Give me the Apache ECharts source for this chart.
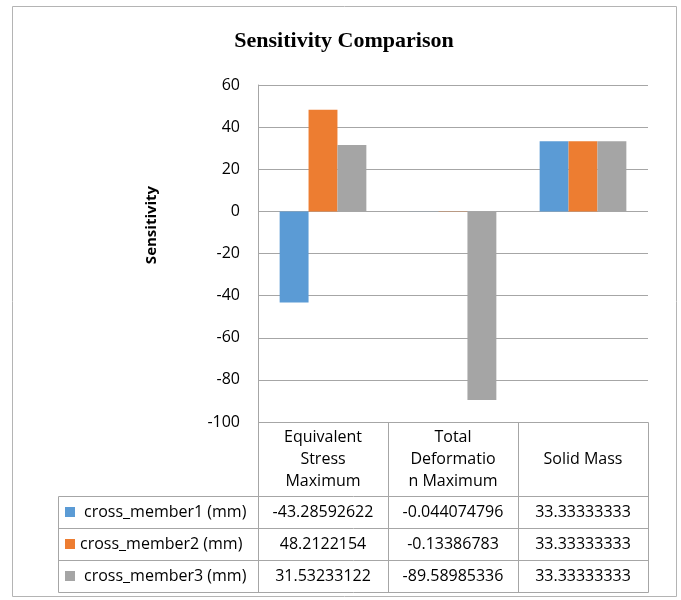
<!DOCTYPE html>
<html>
<head>
<meta charset="utf-8">
<script src="https://cdn.jsdelivr.net/npm/echarts@6/dist/echarts.min.js"></script>
<style>
html,body{margin:0;padding:0;background:#fff;}
#chart{width:681px;height:600px;}
</style>
</head>
<body>
<div id="chart"></div>
<script>
// ---- data ----
const categories = ['Equivalent Stress Maximum', 'Total Deformation Maximum', 'Solid Mass'];
const categoryHeaderLines = [['Equivalent', 'Stress', 'Maximum'], ['Total', 'Deformatio', 'n Maximum'], ['Solid Mass']];
const seriesNames = ['cross_member1 (mm)', 'cross_member2 (mm)', 'cross_member3 (mm)'];
const member1 = [-43.28592622, -0.044074796, 33.33333333];
const member2 = [48.2122154, -0.13386783, 33.33333333];
const member3 = [31.53233122, -89.58985336, 33.33333333];
const yMin = -100, yMax = 60, yInterval = 20;
const titleText = 'Sensitivity Comparison';
const yAxisTitle = 'Sensitivity';

// ---- style ----
const colors = ['#5B9BD5', '#ED7D31', '#A5A5A5'];
const lineColor = '#a6a6a6';
const font = '"Open Sans", Lato, sans-serif';
const fs = 16;

const chart = echarts.init(document.getElementById('chart'), null, {renderer: 'canvas'});
const seriesData = [member1, member2, member3];

const option = {
  animation: false,
  backgroundColor: '#fff',
  grid: {left: 258, right: 33, top: 85, bottom: 178, containLabel: false},
  xAxis: {
    type: 'category', data: categories,
    axisLine: {show: false}, axisTick: {show: false}, axisLabel: {show: false}, splitLine: {show: false}
  },
  yAxis: {
    type: 'value', min: yMin, max: yMax, interval: yInterval,
    axisLine: {show: true, lineStyle: {color: lineColor, width: 1}},
    axisTick: {show: false},
    axisLabel: {margin: 18, color: '#000', fontFamily: font, fontSize: fs},
    splitLine: {show: true, lineStyle: {color: lineColor, width: 1}}
  },
  series: seriesNames.map((n, i) => ({
    name: n, type: 'bar', data: seriesData[i],
    barGap: '0%', barCategoryGap: '33.3%',
    itemStyle: {color: colors[i]}
  }))
};
chart.setOption(option);

// ---- data table built from arrays, aligned with axis scale ----
const c0 = chart.convertToPixel({xAxisIndex: 0}, 0);
const c1 = chart.convertToPixel({xAxisIndex: 0}, 1);
const band = c1 - c0;
const colEdges = categories.map((_, i) => c0 - band / 2 + i * band);
colEdges.push(c0 - band / 2 + categories.length * band);
const yTop = chart.convertToPixel({yAxisIndex: 0}, yMin);
const headerH = 74, rowH = 32, tableLeft = 58;
const rowEdges = [yTop + headerH];
for (let i = 1; i <= seriesNames.length; i++) rowEdges.push(yTop + headerH + i * rowH);

const g = [];
function ln(x1, y1, x2, y2) {
  g.push({type: 'line', silent: true, shape: {x1: x1, y1: y1, x2: x2, y2: y2},
    style: {stroke: lineColor, lineWidth: 1}});
}
const r = v => Math.round(v) + 0.5;
const right = colEdges[colEdges.length - 1];
// horizontal lines
ln(r(colEdges[0]), r(yTop), r(right), r(yTop));
rowEdges.forEach(y => ln(r(tableLeft), r(y), r(right), r(y)));
// vertical lines
ln(r(tableLeft), r(rowEdges[0]), r(tableLeft), r(rowEdges[rowEdges.length - 1]));
colEdges.forEach(x => ln(r(x), r(yTop), r(x), r(rowEdges[rowEdges.length - 1])));

// header texts
categoryHeaderLines.forEach((lines, i) => {
  g.push({type: 'text', silent: true, x: (colEdges[i] + colEdges[i + 1]) / 2, y: yTop + headerH / 2,
    style: {text: lines.join('\n'), align: 'center', verticalAlign: 'middle', lineHeight: 22,
      fill: '#000', font: fs + 'px ' + font}});
});
// rows
const labelX = [84, 80, 84];
seriesNames.forEach((n, si) => {
  const cy = (rowEdges[si] + rowEdges[si + 1]) / 2;
  g.push({type: 'rect', silent: true, shape: {x: 65, y: Math.round(cy) - 5, width: 10, height: 10},
    style: {fill: colors[si]}});
  g.push({type: 'text', silent: true, x: labelX[si], y: cy,
    style: {text: n, align: 'left', verticalAlign: 'middle', fill: '#000', font: fs + 'px ' + font}});
  seriesData[si].forEach((v, ci) => {
    g.push({type: 'text', silent: true, x: (colEdges[ci] + colEdges[ci + 1]) / 2, y: cy,
      style: {text: String(v), align: 'center', verticalAlign: 'middle', fill: '#000', font: fs + 'px ' + font}});
  });
});
// title
g.push({type: 'text', silent: true, x: 344, y: 41,
  style: {text: titleText, align: 'center', verticalAlign: 'middle', fill: '#000',
    font: 'bold 22px "Liberation Serif", "Times New Roman", serif'}});
// y axis title
g.push({type: 'text', silent: true, x: 152, y: 225, rotation: Math.PI / 2,
  style: {text: yAxisTitle, align: 'center', verticalAlign: 'middle', fill: '#000',
    font: 'bold 15px ' + font}});
// outer border
g.push({type: 'rect', silent: true, shape: {x: 12.5, y: 6.5, width: 664, height: 590},
  style: {fill: null, stroke: '#b4b4b4', lineWidth: 1}});

chart.setOption({graphic: {elements: g}});
</script>
</body>
</html>
